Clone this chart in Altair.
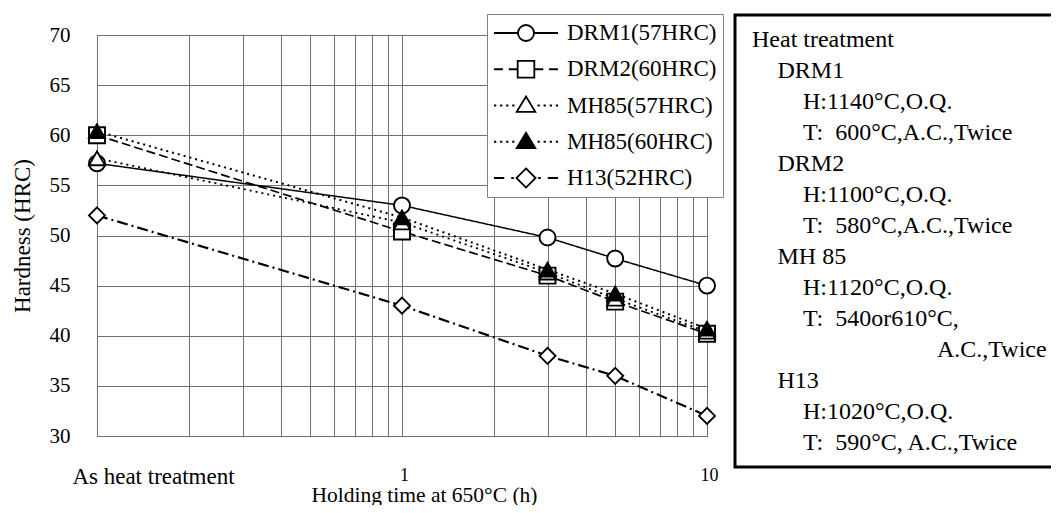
import altair as alt
import pandas as pd

FONT = "'Times New Roman', 'Liberation Serif', Tinos, 'DejaVu Serif', serif"

# ---- data ----
TIMES = [0.1, 1, 3, 5, 10]          # 0.1 stands for "As heat treatment"
SERIES = ["DRM1(57HRC)", "DRM2(60HRC)", "MH85(57HRC)", "MH85(60HRC)", "H13(52HRC)"]
DRM1 = [57.2, 53.0, 49.8, 47.7, 45.0]
DRM2 = [60.0, 50.4, 46.0, 43.4, 40.2]
MH85_57 = [57.7, 51.3, 46.3, 43.7, 40.4]
MH85_60 = [60.4, 51.8, 46.6, 44.2, 40.7]
H13 = [52.0, 43.0, 38.0, 36.0, 32.0]
VALUES = [DRM1, DRM2, MH85_57, MH85_60, H13]

Y_TICKS = [30, 35, 40, 45, 50, 55, 60, 65, 70]
X_GRID = [0.1, 0.2, 0.3, 0.4, 0.5, 0.6, 0.7, 0.8, 0.9, 1, 2, 3, 4, 5, 6, 7, 8, 9, 10]

BOX_LINES = [
    "Heat treatment",
    "DRM1",
    "H:1140°C,O.Q.",
    "T:\u00a0\u00a0600°C,A.C.,Twice",
    "DRM2",
    "H:1100°C,O.Q.",
    "T:\u00a0\u00a0580°C,A.C.,Twice",
    "MH 85",
    "H:1120°C,O.Q.",
    "T:\u00a0\u00a0540or610°C,",
    "A.C.,Twice",
    "H13",
    "H:1020°C,O.Q.",
    "T:\u00a0\u00a0590°C, A.C.,Twice",
]
BOX_LEVELS = [0, 1, 2, 2, 1, 2, 2, 1, 2, 2, 3, 1, 2, 2]

# ---- styles ----
MARKERS = ["circle", "square", "triangle-up", "triangle-up", "diamond"]
FILLS = ["white", "white", "white", "black", "white"]
DASHES = [[1, 0], [9, 4], [2, 4], [2, 4], [11, 4, 2, 4]]
WIDTHS = [1.5, 2.2, 2.2, 2.2, 2.2]

circ = "M0.25,0A0.25,0.25,0,1,1,-0.25,0A0.25,0.25,0,1,1,0.25,0Z"
sq = "M-0.26,-0.26L0.26,-0.26L0.26,0.26L-0.26,0.26Z"
tri = "M0,-0.28L0.29,0.2L-0.29,0.2Z"
dia = "M0,-0.3L0.3,0L0,0.3L-0.3,0Z"
dots = ("M-1,0L-0.93,0M-0.81,0L-0.74,0M-0.62,0L-0.55,0M-0.43,0L-0.36,0"
        "M0.36,0L0.43,0M0.55,0L0.62,0M0.74,0L0.81,0M0.93,0L1,0")
LEGEND_PATHS = [
    "M-1,0L-0.25,0M0.25,0L1,0" + circ,
    "M-1,0L-0.72,0M-0.54,0L-0.26,0M0.26,0L0.54,0M0.72,0L1,0" + sq,
    dots + tri,
    dots + tri,
    "M-1,0L-0.68,0M-0.46,0L-0.38,0M0.38,0L0.46,0M0.68,0L1,0" + dia,
]

rows = []
for s, vals in zip(SERIES, VALUES):
    for t, v in zip(TIMES, vals):
        rows.append({"series": s, "time": t, "hrc": v})
df = pd.DataFrame(rows)

label_expr = ("datum.value < 0.15 ? 'As heat treatment' : "
              "(abs(datum.value - 1) < 0.01 ? '1' : "
              "(abs(datum.value - 10) < 0.01 ? '10' : ''))")
first = "datum.value < 0.15"

x_enc = alt.X(
    "time:Q",
    scale=alt.Scale(type="log", domain=[0.1, 10], nice=False),
    axis=alt.Axis(
        values=X_GRID,
        labelExpr=label_expr,
        labelFontSize={"condition": {"test": first, "value": 23}, "value": 18},
        labelOffset={"condition": {"test": first, "value": 56}, "value": 2},
        labelPadding={"condition": {"test": first, "value": 47}, "value": 44},
        labelBaseline="alphabetic",
        labelFlush=False,
        labelOverlap=False,
        title="Holding time at 650°C (h)",
        titleFontSize=21.5,
        titleX=327,
        titleY=65,
        titleBaseline="alphabetic",
        titleAlign="center",
    ),
)
y_enc = alt.Y(
    "hrc:Q",
    scale=alt.Scale(domain=[30, 70], nice=False, zero=False),
    axis=alt.Axis(
        values=Y_TICKS,
        labelFontSize=21,
        labelPadding=27,
        title="Hardness (HRC)",
        titleFontSize=23,
        titleX=-75,
        titleY=200.5,
        titleAngle=270,
        titleBaseline="middle",
        titleAlign="center",
    ),
)

lines = alt.Chart(df).mark_line(color="black").encode(
    x=x_enc,
    y=y_enc,
    detail="series:N",
    strokeDash=alt.StrokeDash("series:N", scale=alt.Scale(domain=SERIES, range=DASHES), legend=None),
    strokeWidth=alt.StrokeWidth("series:N", scale=alt.Scale(domain=SERIES, range=WIDTHS), legend=None),
)

points = alt.Chart(df).mark_point(size=256, strokeWidth=1.9, stroke="black", opacity=1).encode(
    x=x_enc,
    y=y_enc,
    shape=alt.Shape("series:N", scale=alt.Scale(domain=SERIES, range=MARKERS), legend=None),
    fill=alt.Fill("series:N", scale=alt.Scale(domain=SERIES, range=FILLS), legend=None),
)

legend = alt.Legend(
    orient="none",
    legendX=390,
    legendY=-21,
    title=None,
    symbolSize=4096,
    symbolStrokeWidth=1.8,
    symbolOpacity=1,
    clipHeight=26,
    rowPadding=10.25,
    padding=6,
    fillColor="white",
    strokeColor="#808080",
    labelFont=FONT,
    labelFontSize=23,
    labelColor="black",
    labelOffset=8,
)

legend_layer = alt.Chart(df).transform_filter("false").mark_point(
    size=4096, strokeWidth=1.8, stroke="black", opacity=1
).encode(
    x=x_enc,
    y=y_enc,
    shape=alt.Shape("series:N", scale=alt.Scale(domain=SERIES, range=LEGEND_PATHS), legend=legend),
    fill=alt.Fill("series:N", scale=alt.Scale(domain=SERIES, range=FILLS), legend=legend),
)

box_rect = alt.Chart(pd.DataFrame({"k": [0]})).mark_rect(
    fill="transparent", stroke="black", strokeWidth=3
).encode(
    x=alt.value(638), x2=alt.value(1000), y=alt.value(-20), y2=alt.value(432)
)

box_df = pd.DataFrame({"line": BOX_LINES, "level": BOX_LEVELS, "row": list(range(len(BOX_LINES)))})
box_text = alt.Chart(box_df).transform_calculate(
    px="datum.level == 3 ? 840 : 655 + 25.5 * datum.level",
    py="5 + 31 * datum.row",
).mark_text(align="left", baseline="middle", font=FONT, fontSize=24, color="black").encode(
    x=alt.X("px:Q", scale=None, axis=None),
    y=alt.Y("py:Q", scale=None, axis=None),
    text="line:N",
)

chart = (
    alt.layer(lines, points, legend_layer, box_rect, box_text)
    .resolve_scale(shape="independent", fill="independent")
    .resolve_legend(shape="independent", fill="independent")
    .properties(
        width=610,
        height=401,
        autosize=alt.AutoSizeParams(type="none"),
        padding={"left": 89, "top": 27, "right": 344, "bottom": 69},
        background="white",
    )
    .configure(font=FONT)
    .configure_view(stroke="#707070", strokeWidth=1)
    .configure_axis(
        labelFont=FONT,
        titleFont=FONT,
        labelColor="black",
        titleColor="black",
        titleFontWeight="normal",
        gridColor="#707070",
        gridWidth=1,
        gridOpacity=1,
        domain=False,
        tickSize=0,
    )
)

chart.save("out.html", embed_options={"renderer": "svg", "actions": False})
